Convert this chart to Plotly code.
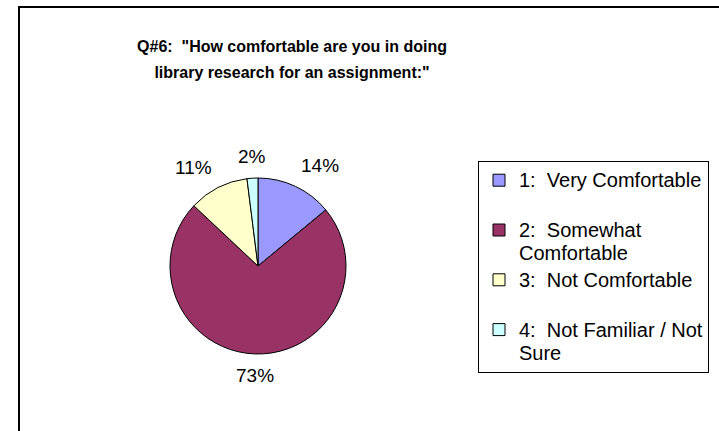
import math
import plotly.graph_objects as go

# ---- data ----
categories = [
    "1:  Very Comfortable<br> ",
    "2:  Somewhat<br>Comfortable",
    "3:  Not Comfortable<br> ",
    "4:  Not Familiar / Not<br>Sure",
]
values = [14, 73, 11, 2]
colors = ["#9999FF", "#993366", "#FFFFCC", "#CCFFFF"]
title_lines = ['Q#6:  "How comfortable are you in doing', 'library research for an assignment:"']

W, H = 719, 431
cx, cy, r = 258, 266, 88
FONT = "Liberation Sans, Arial, sans-serif"

# legend labels: larger glyphs, keep line spacing of 18px font
legend_labels = [
    "<br>".join('<span style="font-size:20px">%s</span>' % ln for ln in c.split("<br>"))
    for c in categories
]

fig = go.Figure(
    go.Pie(
        labels=legend_labels,
        values=values,
        sort=False,
        direction="clockwise",
        rotation=0,
        marker=dict(colors=colors, line=dict(color="black", width=1)),
        textinfo="none",
        domain=dict(x=[(cx - r) / W, (cx + r) / W], y=[(H - cy - r) / H, (H - cy + r) / H]),
        hoverinfo="percent",
    )
)

# percentage labels placed outside each slice, from the slice mid-angles
total = sum(values)
annotations = []
cum = 0
gap = 9
for v in values:
    mid = (cum + v / 2) / total * 2 * math.pi  # clockwise from 12 o'clock
    cum += v
    ux, uy = math.sin(mid), math.cos(mid)  # uy positive = up
    px = cx + (r + gap) * ux
    py = cy - (r + gap) * uy
    if abs(ux) < 0.15:
        xa = "center"
    elif ux > 0:
        xa = "left"
    else:
        xa = "right"
    ya = "bottom" if uy > 0 else "top"
    annotations.append(
        dict(
            text="%d%%" % round(v / total * 100),
            x=px / W,
            y=1 - py / H,
            xref="paper",
            yref="paper",
            xanchor=xa,
            yanchor=ya,
            showarrow=False,
            font=dict(family=FONT, size=19, color="black"),
        )
    )

fig.update_layout(
    width=W,
    height=H,
    margin=dict(l=0, r=0, t=0, b=0),
    paper_bgcolor="white",
    plot_bgcolor="white",
    font=dict(family=FONT, color="black"),
    title=dict(
        text='<span style="font-size:16px"><b>' + "<br>".join(title_lines) + "</b></span>",
        font=dict(family=FONT, size=20, color="black"),
        x=292 / W,
        xanchor="center",
        y=1 - 52 / H,
        yanchor="top",
        xref="paper",
        yref="paper",
    ),
    legend=dict(
        x=478 / W,
        y=1 - 161 / H,
        xanchor="left",
        yanchor="top",
        bordercolor="black",
        borderwidth=1,
        bgcolor="white",
        font=dict(family=FONT, size=18, color="black"),
        valign="top",
    ),
    annotations=annotations,
    shapes=[
        dict(
            type="rect",
            xref="paper",
            yref="paper",
            x0=19 / W,
            x1=1.1,
            y0=-0.1,
            y1=1 - 7 / H,
            line=dict(color="black", width=2),
            layer="below",
        )
    ],
)

fig.write_html(
    "out.html",
    config={"displayModeBar": False},
    post_script="document.body.style.margin='0';",
)
